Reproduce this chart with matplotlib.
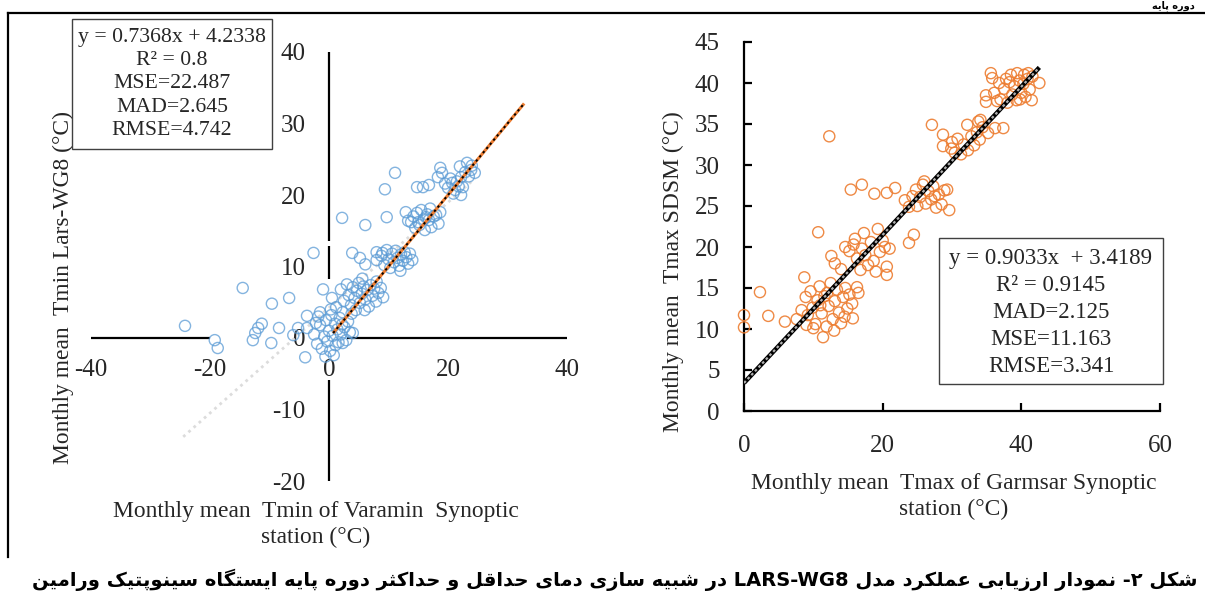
import re
import numpy as np
import matplotlib
matplotlib.use("Agg")
import matplotlib.pyplot as plt
from matplotlib.patches import Rectangle
from matplotlib.lines import Line2D

plt.rcParams['font.family'] = ['Liberation Serif', 'DejaVu Sans']
plt.rcParams['axes.unicode_minus'] = False

# ---------------- data ----------------
# Left panel: observed Tmin (Varamin) vs Lars-WG8 simulated Tmin
tmin_obs = [-24.2, -19.2, -18.7, -14.5, -12.8, -12.4, -11.9, -11.3, -9.7, -9.6, -8.4, -6.7, -6.0, -5.2,
            -3.7, -4.0, -3.7, -2.6, -1.5, -1.0, 0.5,
            -2.5, -2.0, -1.5, -1.2, -0.8, -0.5, -0.3, 0.0, 0.2, 0.4, 0.6, 0.8, 1.0, 1.2, 1.4, 1.6, 1.8,
            2.0, 2.3, 2.6, 2.9, 3.2, 3.5, 3.8, -1.8, 0.3, -0.6, 1.1, 2.2, -2.2, 2.3, 4.0,
            2.0, 2.5, 3.0, 3.3, 3.7, 4.0, 4.3, 4.7, 5.0, 5.2, 5.5, 5.8, 6.1, 6.4, 6.7, 7.0, 7.3, 7.6,
            7.9, 8.3, 8.7, 9.1, 6.0, 4.5, 5.6, 8.0,
            3.9, 5.2, 6.1, 8.0, 8.0, 8.8, 9.3, 9.7, 10.0, 10.3, 10.6, 10.9, 11.2, 11.5, 11.8, 12.1,
            12.4, 12.7, 13.0, 13.3, 13.6, 14.0, 12.0, 9.0,
            2.2, 6.1, 9.7, 11.1, 9.4,
            12.9, 13.3, 13.8, 14.2, 14.8, 15.2, 15.5, 15.9, 16.1, 16.5, 16.8, 17.2, 17.6, 18.0, 18.4,
            18.7, 14.5, 17.0, 15.0, 16.3,
            14.8, 15.8, 16.8,
            18.7, 19.0, 18.3, 20.0, 20.7, 21.5, 22.2, 22.2, 23.2, 23.9, 24.5, 22.9, 22.5, 21.2, 20.4,
            21.8, 23.5, 19.5, 22.0, 24.0, 20.9]
tmin_sim = [1.7, -0.3, -1.4, 7.0, -0.3, 0.7, 1.4, 2.0, -0.7, 4.8, 1.4, 5.6, 0.4, 1.4,
            1.4, -2.7, 3.1, 11.9, 3.6, 6.8, 5.6,
            0.5, -0.8, 1.8, -1.5, 0.2, 2.5, -0.5, 1.0, -1.8, 3.2, 0.3, -2.4, 2.0, 4.3, 1.2, -0.6, 2.8,
            0.5, 3.6, 1.5, -0.3, 2.3, 0.8, 3.4, 3.0, 4.0, -2.6, -1.0, 1.9, 2.1, -0.7, 0.7,
            6.8, 5.2, 7.5, 6.0, 4.6, 7.1, 5.6, 6.6, 7.7, 4.9, 6.2, 7.2, 5.4, 6.7, 4.4, 7.4, 5.9, 6.9,
            5.1, 6.3, 7.0, 5.7, 3.9, 3.9, 8.3, 7.9,
            11.9, 11.2, 10.3, 12.0, 10.9, 11.5, 10.2, 12.3, 11.0, 9.8, 11.8, 10.6, 12.2, 11.2, 10.1, 11.7,
            10.8, 12.0, 11.3, 10.4, 11.8, 10.9, 9.4, 11.9,
            16.8, 15.8, 16.9, 23.1, 20.8,
            17.6, 16.4, 16.2, 17.0, 17.5, 15.8, 17.9, 16.6, 15.1, 17.3, 16.5, 15.5, 17.0, 17.2, 16.0,
            17.6, 15.4, 18.1, 16.2, 16.9,
            21.1, 21.1, 21.4,
            23.8, 23.1, 22.5, 21.0, 21.7, 21.9, 20.0, 22.5, 24.5, 23.5, 23.1, 23.2, 21.1, 20.7, 22.3,
            21.2, 22.6, 21.6, 24.0, 24.1, 20.2]

# Right panel: observed Tmax (Garmsar) vs SDSM simulated Tmax
tmax_obs = [12.3,
            35.6, 35.8, 34.9, 34.9, 36.1, 37.4, 39.4, 40.4, 41.6, 42.6, 37.0, 37.5, 38.0, 38.3, 38.7,
            39.0, 39.3, 39.7, 40.0, 40.3, 40.6, 40.9, 41.2, 41.5, 37.8, 36.5, 38.5, 39.8, 41.0, 36.8,
            27.1, 28.7, 28.7, 32.2, 34.1, 29.9, 30.4, 30.8, 31.3, 31.7, 32.3, 32.8, 33.2, 33.6, 34.0,
            34.4, 35.2, 36.2, 30.0, 33.8,
            15.4, 17.0, 18.8, 20.6, 21.8, 23.2, 23.8, 24.8, 25.4, 25.8, 26.2, 26.6, 27.0, 27.3, 27.7,
            28.1, 28.5, 28.9, 29.6, 29.3, 26.0, 24.3, 27.5, 25.0,
            10.7, 23.8, 24.5, 12.6, 13.1, 14.6, 15.2, 15.8, 16.3, 16.8, 17.3, 17.5, 17.9, 18.3, 18.7,
            19.3, 19.6, 20.0, 20.3, 20.6, 20.6, 21.0, 16.0, 14.0, 19.0, 17.0,
            8.7, 2.3, 0.0, 0.0, 3.5, 5.9, 11.4, 16.3, 16.5, 15.7,
            7.6, 8.3, 8.9, 9.2, 9.6, 9.9, 10.3, 10.6, 10.9, 11.2, 11.6, 11.9, 12.2, 12.5, 12.8, 13.1,
            13.4, 13.7, 14.0, 14.3, 14.6, 14.9, 15.2, 15.6, 10.0, 12.0, 13.0, 11.0, 9.0, 14.5]
tmax_sim = [33.5,
            41.2, 40.6, 38.5, 37.7, 38.8, 34.5, 41.2, 41.0, 40.8, 40.0, 38.0, 39.3, 37.6, 40.1, 38.6,
            39.6, 37.9, 40.3, 38.8, 39.9, 38.3, 40.5, 39.2, 37.9, 40.5, 37.8, 41.0, 38.0, 41.2, 40.0,
            34.9, 33.7, 32.3, 34.9, 35.5, 32.0, 31.5, 33.2, 31.3, 32.5, 31.8, 33.5, 32.4, 34.0, 33.1,
            34.6, 33.9, 34.5, 32.8, 35.3,
            27.0, 27.6, 26.5, 26.6, 27.2, 25.7, 24.9, 27.0, 26.1, 27.6, 25.3, 26.8, 25.8, 27.4, 24.8,
            26.4, 25.2, 26.9, 24.5, 27.0, 28.0, 26.2, 26.2, 25.0,
            21.8, 20.5, 21.5, 18.9, 18.0, 20.0, 19.5, 20.3, 18.6, 17.2, 21.7, 19.0, 17.8, 20.6, 18.3,
            22.2, 19.4, 20.8, 20.0, 16.6, 17.6, 19.8, 21.0, 17.3, 17.0, 19.8,
            16.3, 14.5, 11.7, 10.2, 11.6, 10.9, 9.0, 15.1, 14.4, 11.3,
            11.2, 12.3, 13.9, 11.7, 14.6, 12.6, 10.6, 13.5, 15.2, 11.9, 14.0, 10.3, 12.8, 15.6, 11.2, 13.4,
            14.8, 12.0, 10.7, 13.9, 15.0, 12.5, 14.2, 13.1, 10.1, 14.4, 9.8, 12.9, 10.5, 11.5]

# fitted lines / reference lines
left_slope, left_icpt = 0.7368, 4.2338
left_trend_x = [-24.5, 24.5]
left_11_x = [0.7, 32.8]
right_slope, right_icpt = 0.9033, 3.4189
right_trend_x = [0.0, 42.6]

left_xticks = [-40, -20, 0, 20, 40]
left_yticks = [-20, -10, 0, 10, 20, 30, 40]
right_xticks = [0, 20, 40, 60]
right_yticks = [0, 5, 10, 15, 20, 25, 30, 35, 40, 45]

left_stats = "y = 0.7368x + 4.2338\nR² = 0.8\nMSE=22.487\nMAD=2.645\nRMSE=4.742"
right_stats = "y = 0.9033x  + 3.4189\nR² = 0.9145\nMAD=2.125\nMSE=11.163\nRMSE=3.341"

left_xlabel = "Monthly mean  Tmin of Varamin  Synoptic\nstation (°C)"
left_ylabel = "Monthly mean  Tmin Lars-WG8 (°C)"
right_xlabel = "Monthly mean  Tmax of Garmsar Synoptic\nstation (°C)"
right_ylabel = "Monthly mean  Tmax SDSM (°C)"
caption = "شکل ۲- نمودار ارزیابی عملکرد مدل LARS-WG8 در شبیه سازی دمای حداقل و حداکثر دوره پایه ایستگاه سینوپتیک ورامین"
top_fragment = "دوره پایه"

# ---------------- Persian shaping (matplotlib has no shaping) ----------------
FORMS = {
    '\u0627': ('\uFE8D', '\uFE8E', None, None),
    '\u0628': ('\uFE8F', '\uFE90', '\uFE91', '\uFE92'),
    '\u067E': ('\uFB56', '\uFB57', '\uFB58', '\uFB59'),
    '\u062A': ('\uFE95', '\uFE96', '\uFE97', '\uFE98'),
    '\u062B': ('\uFE99', '\uFE9A', '\uFE9B', '\uFE9C'),
    '\u062D': ('\uFEA1', '\uFEA2', '\uFEA3', '\uFEA4'),
    '\u062F': ('\uFEA9', '\uFEAA', None, None),
    '\u0631': ('\uFEAD', '\uFEAE', None, None),
    '\u0632': ('\uFEAF', '\uFEB0', None, None),
    '\u0633': ('\uFEB1', '\uFEB2', '\uFEB3', '\uFEB4'),
    '\u0634': ('\uFEB5', '\uFEB6', '\uFEB7', '\uFEB8'),
    '\u0639': ('\uFEC9', '\uFECA', '\uFECB', '\uFECC'),
    '\u0642': ('\uFED5', '\uFED6', '\uFED7', '\uFED8'),
    '\u06A9': ('\uFB8E', '\uFB8F', '\uFB90', '\uFB91'),
    '\u06AF': ('\uFB92', '\uFB93', '\uFB94', '\uFB95'),
    '\u0644': ('\uFEDD', '\uFEDE', '\uFEDF', '\uFEE0'),
    '\u0645': ('\uFEE1', '\uFEE2', '\uFEE3', '\uFEE4'),
    '\u0646': ('\uFEE5', '\uFEE6', '\uFEE7', '\uFEE8'),
    '\u0647': ('\uFEE9', '\uFEEA', '\uFEEB', '\uFEEC'),
    '\u0648': ('\uFEED', '\uFEEE', None, None),
    '\u06CC': ('\uFBFC', '\uFBFD', '\uFBFE', '\uFBFF'),
}


def shape(text):
    out = []
    n = len(text)
    for i, c in enumerate(text):
        if c not in FORMS:
            out.append(c)
            continue
        prev = text[i - 1] if i > 0 else ''
        nxt = text[i + 1] if i + 1 < n else ''
        jp = prev in FORMS and FORMS[prev][2] is not None
        jn = nxt in FORMS and FORMS[c][2] is not None
        iso, fin, ini, med = FORMS[c]
        if jp and jn:
            out.append(med)
        elif jp:
            out.append(fin)
        elif jn:
            out.append(ini)
        else:
            out.append(iso)
    return ''.join(out)


def visual(text):
    s = shape(text)
    toks = re.findall(r'[A-Za-z][A-Za-z0-9\-]*|[^A-Za-z]+', s)
    res = []
    for t in reversed(toks):
        if re.match(r'[A-Za-z]', t):
            res.append(t)
        else:
            res.append(t[::-1])
    return ''.join(res)


# ---------------- figure ----------------
W, H = 1205, 596
fig = plt.figure(figsize=(W / 100, H / 100), dpi=100)
fig.patch.set_facecolor('white')


def fx(px):
    return px / W


def fy(py):
    return 1 - py / H


txt_col = '#262626'
blue = '#5b9bd5'
orange = '#ed7d31'
TICK_FS = 18
LAB_FS = 16.9

# ---- left panel ----
ax1 = fig.add_axes([fx(91), fy(481), (567 - 91) / W, (481 - 52) / H])
ax1.set_xlim(-40, 40)
ax1.set_ylim(-20, 40)
for s in ['top', 'right']:
    ax1.spines[s].set_visible(False)
ax1.spines['left'].set_position(('data', 0))
ax1.spines['bottom'].set_position(('data', 0))
ax1.spines['left'].set_visible(False)
ax1.spines['bottom'].set_visible(False)
# axis lines with the gaps seen in the original
ax1.hlines([0, 0], [-40, 3], [-20, 40], color='black', lw=1.6, zorder=2.5, clip_on=False)
ax1.vlines([0, 0, 0], [13.6, 8.3, -20], [40, 12.8, -5.9], color='black', lw=1.6, zorder=2.5,
           clip_on=False)
ax1.set_xticks(left_xticks)
ax1.set_yticks(left_yticks)
ax1.tick_params(direction='in', length=6, width=1.6, color='black', labelsize=TICK_FS,
                labelcolor=txt_col)
ax1.tick_params(axis='y', pad=17)
ax1.tick_params(axis='x', pad=15)
for t in ax1.xaxis.get_major_ticks():
    if abs(t.get_loc()) < 1e-9:
        t.tick1line.set_visible(False)
for t in ax1.yaxis.get_major_ticks():
    if abs(t.get_loc()) < 1e-9:
        t.tick1line.set_visible(False)

tx = np.array(left_trend_x)
ax1.plot(tx, left_slope * tx + left_icpt, color='#dcdcdc', lw=2, ls=(0, (1, 1.5)), zorder=2)
ax1.scatter(tmin_obs, tmin_sim, s=64, facecolors='none', edgecolors=blue, linewidths=1.0,
            alpha=0.75, zorder=3)
ox = np.array(left_11_x)
ax1.plot(ox, ox, color=orange, lw=2.2, zorder=4, solid_capstyle='butt')
ax1.plot(ox, ox, color='black', lw=1.4, ls=(0, (1.2, 1.6)), zorder=5)

ax1.set_xlabel(left_xlabel, fontsize=LAB_FS, color=txt_col, linespacing=1.26, va='center')
ax1.xaxis.set_label_coords((316 - 91) / 476, (481 - 524.5) / 429)
ax1.set_ylabel(left_ylabel, fontsize=LAB_FS, color=txt_col, va='center')
ax1.yaxis.set_label_coords((63 - 91) / 476, (481 - 288) / 429)

# ---- right panel ----
ax2 = fig.add_axes([fx(744), fy(411), (1160 - 744) / W, (411 - 42) / H])
ax2.set_xlim(0, 60)
ax2.set_ylim(0, 45)
for s in ['top', 'right']:
    ax2.spines[s].set_visible(False)
for s in ['left', 'bottom']:
    ax2.spines[s].set_linewidth(1.6)
ax2.set_xticks(right_xticks)
ax2.set_yticks(right_yticks)
ax2.tick_params(direction='in', length=6, width=1.6, color='black', labelsize=TICK_FS,
                labelcolor=txt_col)
ax2.tick_params(axis='y', pad=17.5)
ax2.tick_params(axis='x', pad=17)

ax2.scatter(tmax_obs, tmax_sim, s=64, facecolors='none', edgecolors=orange, linewidths=1.0,
            alpha=0.9, zorder=3, clip_on=False)
rx = np.array(right_trend_x)
ax2.plot(rx, right_slope * rx + right_icpt, color='black', lw=3.2, zorder=4, solid_capstyle='butt')
ax2.plot(rx, right_slope * rx + right_icpt, color='#b0b0b0', lw=1.6, ls=(0, (1.2, 1.2)), zorder=5)

ax2.set_xlabel(right_xlabel, fontsize=LAB_FS, color=txt_col, linespacing=1.26, va='center')
ax2.xaxis.set_label_coords((954 - 744) / 416, (411 - 496.5) / 369)
ax2.set_ylabel(right_ylabel, fontsize=LAB_FS, color=txt_col, va='center')
ax2.yaxis.set_label_coords((673 - 744) / 416, (411 - 272) / 369)

# ---- statistic boxes ----
fig.add_artist(Rectangle((fx(72), fy(149)), (272 - 72) / W, (149 - 19) / H,
                         transform=fig.transFigure, facecolor='white', edgecolor='#404040', lw=1.0))
fig.text(fx(172), fy(84), left_stats, ha='center', va='center', fontsize=15.7,
         color=txt_col, linespacing=1.32)
fig.add_artist(Rectangle((fx(939), fy(384)), (1163 - 939) / W, (384 - 238) / H,
                         transform=fig.transFigure, facecolor='white', edgecolor='#404040', lw=1.0))
fig.text(fx(1051), fy(312.5), right_stats, ha='center', va='center', fontsize=16.5,
         color=txt_col, linespacing=1.37)

# ---- page frame lines ----
fig.add_artist(Line2D([fx(8), 1.0], [fy(13), fy(13)], transform=fig.transFigure,
                      color='black', lw=1.6))
fig.add_artist(Line2D([fx(8), fx(8)], [fy(13), fy(557)], transform=fig.transFigure,
                      color='black', lw=1.6))

# ---- Persian caption ----
fig.text(fx(1198), fy(580), visual(caption), ha='right', va='center', fontsize=14,
         fontweight='bold', family=['DejaVu Sans'], color='black')
fig.text(fx(1195), fy(5.5), visual(top_fragment), ha='right', va='center', fontsize=7,
         fontweight='bold', family=['DejaVu Sans'], color='black')

fig.savefig('out.png', dpi=100)
